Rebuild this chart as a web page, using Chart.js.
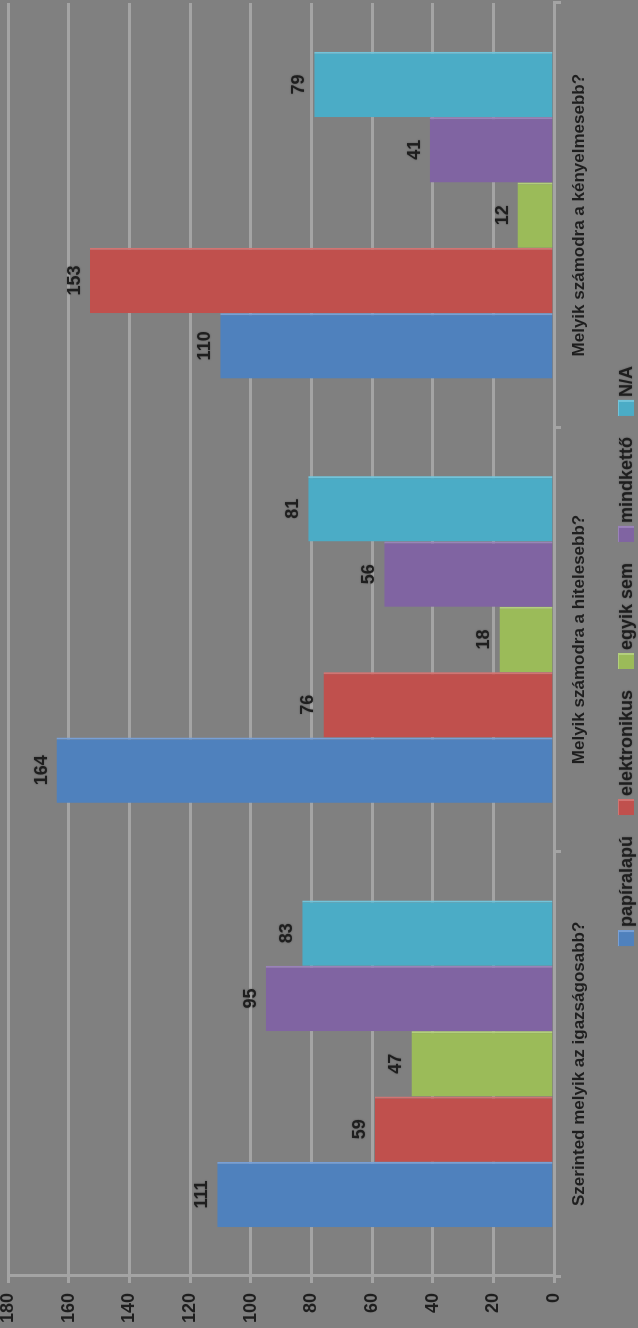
<!DOCTYPE html>
<html>
<head>
<meta charset="utf-8">
<script src="https://cdn.jsdelivr.net/npm/chart.js@4"></script>
<style>
  html, body { margin: 0; padding: 0; background: #808080; overflow: hidden; }
  body { width: 638px; height: 1328px; position: relative; }
  /* the chart is drawn upright and then turned a quarter left */
  #wrap { position: absolute; left: 0; top: 1328px; width: 1328px; height: 638px;
          transform: rotate(-90deg); transform-origin: 0 0; }
</style>
</head>
<body>
<div id="wrap"><canvas id="myChart" width="1328" height="638"></canvas></div>
<script>
const categories = [
  "Szerinted melyik az igazságosabb?",
  "Melyik számodra a hitelesebb?",
  "Melyik számodra a kényelmesebb?",
];
const seriesNames = ["papíralapú", "elektronikus", "egyik sem", "mindkettő", "N/A"];
const papiralapu = [111, 164, 110];
const elektronikus = [59, 76, 153];
const egyikSem = [47, 18, 12];
const mindketto = [95, 56, 41];
const na = [83, 81, 79];
const yTicks = [0, 20, 40, 60, 80, 100, 120, 140, 160, 180];

const fills = ["#4f81bd", "#c0504d", "#9bbb59", "#8064a2", "#4bacc6"];
const edges = ["#78a0d6", "#d27472", "#b3cf7c", "#9a82ba", "#72c4da"];
const values = [papiralapu, elektronikus, egyikSem, mindketto, na];

const FONT = "'Liberation Sans', Arial, sans-serif";
const textColor = "#1e1e1e";
const gridColor = "#a4a4a4";

// grey page behind everything
const bgPlugin = {
  id: "bg",
  beforeDraw(chart) {
    const c = chart.ctx;
    c.save();
    c.fillStyle = "#808080";
    c.fillRect(0, 0, chart.width, chart.height);
    c.restore();
  },
};

// numbers above each bar
const valueLabels = {
  id: "valueLabels",
  afterDatasetsDraw(chart) {
    const c = chart.ctx;
    c.save();
    c.font = "bold 18px " + FONT;
    c.fillStyle = textColor;
    c.textAlign = "center";
    c.textBaseline = "alphabetic";
    c.shadowColor = "rgba(0,0,0,0.35)";
    c.shadowBlur = 2;
    chart.data.datasets.forEach((ds, i) => {
      const meta = chart.getDatasetMeta(i);
      meta.data.forEach((bar, j) => {
        c.fillText(ds.data[j], bar.x, bar.y - 10);
      });
    });
    c.restore();
  },
};

// legend drawn by hand so the text sits tight against its box
const legendPlugin = {
  id: "tightLegend",
  afterDraw(chart) {
    const c = chart.ctx;
    c.save();
    c.font = "bold 18px " + FONT;
    const box = 16, gap = 3, space = 21;
    const widths = seriesNames.map((n) => c.measureText(n).width);
    let total = 0;
    widths.forEach((w, i) => { total += box + gap + w + (i < widths.length - 1 ? space : 0); });
    let x = 672 - total / 2;
    const top = 618;
    c.textBaseline = "middle";
    c.textAlign = "left";
    seriesNames.forEach((n, i) => {
      c.fillStyle = fills[i];
      c.fillRect(x, top, box, box);
      c.fillStyle = edges[i];
      c.fillRect(x + box - 2, top, 2, box);
      c.fillRect(x, top, box, 1);
      c.fillStyle = textColor;
      c.shadowColor = "rgba(0,0,0,0.35)";
      c.shadowBlur = 2;
      c.fillText(n, x + box + gap, top + box / 2 + 1);
      c.shadowBlur = 0;
      x += box + gap + widths[i] + space;
    });
    c.restore();
  },
};

const datasets = seriesNames.map((name, i) => ({
  label: name,
  data: values[i],
  backgroundColor: fills[i],
  borderColor: edges[i],
  borderWidth: { top: 0, right: 2, bottom: 0, left: 0 },
  borderSkipped: false,
  categoryPercentage: 0.77,
  barPercentage: 1.0,
}));

const myChart = new Chart(document.getElementById("myChart"), {
  type: "bar",
  data: { labels: categories, datasets: datasets },
  options: {
    responsive: false,
    animation: false,
    devicePixelRatio: 1,
    layout: { padding: { left: 0, right: 3, top: 8, bottom: 46 } },
    plugins: {
      legend: { display: false },
      tooltip: { enabled: false },
    },
    scales: {
      x: {
        afterFit(scale) {
          scale.height = 38;
          scale.paddingLeft = 0;
          scale.paddingRight = 0;
        },
        grid: { drawOnChartArea: false, drawTicks: true, tickLength: 7, color: gridColor, lineWidth: 3 },
        border: { color: gridColor, width: 3 },
        ticks: { color: textColor, padding: 8, maxRotation: 0, font: { family: FONT, size: 17, weight: "bold" } },
      },
      y: {
        min: 0,
        max: 180,
        afterBuildTicks(scale) {
          scale.ticks = yTicks.map((v) => ({ value: v }));
        },
        afterFit(scale) {
          scale.width = 52;
          scale.paddingTop = 0;
          scale.paddingBottom = 0;
        },
        grid: { color: gridColor, lineWidth: 3, tickLength: 7 },
        border: { color: gridColor, width: 3 },
        ticks: { color: textColor, padding: 10, font: { family: FONT, size: 18, weight: "bold" } },
      },
    },
  },
  plugins: [bgPlugin, valueLabels, legendPlugin],
});
</script>
</body>
</html>
